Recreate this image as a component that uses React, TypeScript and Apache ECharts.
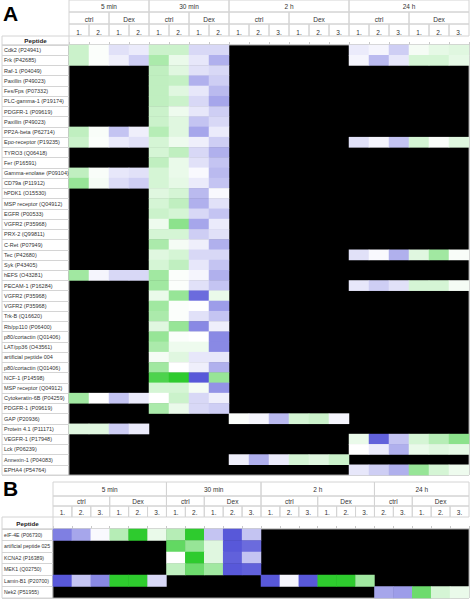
import React, { useEffect, useRef } from "react";
import * as echarts from "echarts";

const N = null;

const peptidesA = [
  "Cdk2 (P24941)", "Frk (P42685)", "Raf-1 (P04049)", "Paxillin (P49023)", "Fes/Fps (P07332)",
  "PLC-gamma-1 (P19174)", "PDGFR-1 (P09619)", "Paxillin (P49023)", "PP2A-beta (P62714)",
  "Epo-receptor (P19235)", "TYRO3 (Q06418)", "Fer (P16591)", "Gamma-enolase (P09104)",
  "CD79a (P11912)", "hPDK1 (O15530)", "MSP receptor (Q04912)", "EGFR (P00533)", "VGFR2 (P35968)",
  "PRX-2 (Q99811)", "C-Ret (P07949)", "Tec (P42680)", "Syk (P43405)", "hEFS (O43281)",
  "PECAM-1 (P16284)", "VGFR2 (P35968)", "VGFR2 (P35968)", "Trk-B (Q16620)", "Rb/pp110 (P06400)",
  "p80/cortactin (Q01406)", "LAT/pp36 (O43561)", "artificial peptide 004", "p80/cortactin (Q01406)",
  "NCF-1 (P14598)", "MSP receptor (Q04912)", "Cytokeratin-6B (P04259)", "PDGFR-1 (P09619)",
  "GAP (P20936)", "Protein 4.1 (P11171)", "VEGFR-1 (P17948)", "Lck (P06239)", "Annexin-1 (P04083)",
  "EPHA4 (P54764)",
];

const columnsA = [
  "5 min|ctrl|1.", "5 min|ctrl|2.", "5 min|Dex|1.", "5 min|Dex|2.",
  "30 min|ctrl|1.", "30 min|ctrl|2.", "30 min|Dex|1.", "30 min|Dex|2.",
  "2 h|ctrl|1.", "2 h|ctrl|2.", "2 h|ctrl|3.", "2 h|Dex|1.", "2 h|Dex|2.", "2 h|Dex|3.",
  "24 h|ctrl|1.", "24 h|ctrl|2.", "24 h|ctrl|3.", "24 h|Dex|1.", "24 h|Dex|2.", "24 h|Dex|3.",
];

// log-ratio like values: positive = green, negative = blue, null = not measured (black)
const valuesA = [
  [0.25, 0.02, -0.15, -0.1, 0.25, 0.25, -0.2, -0.2, N, N, N, N, N, N, -0.1, -0.05, -0.25, 0.05, 0.12, 0.15],
  [0.25, 0.02, -0.08, -0.25, 0.4, 0.1, -0.12, -0.4, N, N, N, N, N, N, -0.05, -0.35, -0.12, 0.2, 0.2, 0.12],
  [N, N, N, N, 0.3, 0.15, -0.15, -0.2, N, N, N, N, N, N, N, N, N, N, N, N],
  [N, N, N, N, 0.3, 0.28, -0.4, -0.25, N, N, N, N, N, N, N, N, N, N, N, N],
  [N, N, N, N, 0.3, 0.15, -0.12, -0.35, N, N, N, N, N, N, N, N, N, N, N, N],
  [N, N, N, N, 0.3, 0.25, -0.2, -0.45, N, N, N, N, N, N, N, N, N, N, N, N],
  [N, N, N, N, 0.25, 0.08, -0.12, -0.25, N, N, N, N, N, N, N, N, N, N, N, N],
  [N, N, N, N, 0.25, 0.15, -0.3, -0.2, N, N, N, N, N, N, N, N, N, N, N, N],
  [0.3, 0.03, -0.3, -0.08, 0.35, 0.15, -0.45, -0.1, N, N, N, N, N, N, N, N, N, N, N, N],
  [0.25, 0.02, -0.1, -0.15, 0.2, 0.08, -0.08, -0.25, N, N, N, N, N, N, -0.15, -0.05, -0.3, 0.2, 0.03, 0.15],
  [N, N, N, N, 0.2, 0.3, -0.2, -0.4, N, N, N, N, N, N, N, N, N, N, N, N],
  [N, N, N, N, 0.3, 0.1, -0.15, -0.3, N, N, N, N, N, N, N, N, N, N, N, N],
  [0.3, 0.03, -0.12, -0.15, 0.2, 0.1, -0.03, -0.35, N, N, N, N, N, N, N, N, N, N, N, N],
  [0.5, 0.05, -0.18, -0.25, 0.2, 0.12, -0.1, -0.3, N, N, N, N, N, N, N, N, N, N, N, N],
  [N, N, N, N, 0.15, 0.2, -0.35, -0.03, N, N, N, N, N, N, N, N, N, N, N, N],
  [N, N, N, N, 0.2, 0.3, -0.4, -0.15, N, N, N, N, N, N, N, N, N, N, N, N],
  [N, N, N, N, 0.25, 0.2, -0.2, -0.3, N, N, N, N, N, N, N, N, N, N, N, N],
  [N, N, N, N, 0.08, 0.55, -0.45, -0.1, N, N, N, N, N, N, N, N, N, N, N, N],
  [N, N, N, N, 0.2, 0.2, -0.25, -0.15, N, N, N, N, N, N, N, N, N, N, N, N],
  [N, N, N, N, 0.4, 0.05, -0.08, -0.4, N, N, N, N, N, N, N, N, N, N, N, N],
  [N, N, N, N, 0.15, 0.2, -0.2, -0.2, N, N, N, N, N, N, -0.15, -0.03, -0.4, 0.15, 0.45, 0.03],
  [N, N, N, N, 0.2, 0.3, -0.12, -0.3, N, N, N, N, N, N, N, N, N, N, N, N],
  [0.45, -0.05, -0.2, -0.2, 0.45, 0.02, -0.05, -0.4, N, N, N, N, N, N, N, N, N, N, N, N],
  [N, N, N, N, 0.45, 0.02, -0.15, -0.3, N, N, N, N, N, N, -0.12, -0.25, -0.15, 0.2, 0.2, 0.05],
  [N, N, N, N, 0.1, 0.5, -0.75, 0.1, N, N, N, N, N, N, N, N, N, N, N, N],
  [N, N, N, N, 0.45, 0.02, 0.0, -0.5, N, N, N, N, N, N, N, N, N, N, N, N],
  [N, N, N, N, 0.4, 0.02, -0.15, -0.3, N, N, N, N, N, N, N, N, N, N, N, N],
  [N, N, N, N, 0.15, 0.5, -0.6, -0.08, N, N, N, N, N, N, N, N, N, N, N, N],
  [N, N, N, N, 0.5, 0.02, 0.0, -0.6, N, N, N, N, N, N, N, N, N, N, N, N],
  [N, N, N, N, 0.4, 0.08, 0.08, -0.6, N, N, N, N, N, N, N, N, N, N, N, N],
  [N, N, N, N, 0.05, 0.15, -0.12, -0.12, N, N, N, N, N, N, N, N, N, N, N, N],
  [N, N, N, N, 0.45, 0.0, -0.08, -0.4, N, N, N, N, N, N, N, N, N, N, N, N],
  [N, N, N, N, 0.85, 1.0, -0.85, 0.5, N, N, N, N, N, N, N, N, N, N, N, N],
  [N, N, N, N, 0.2, 0.2, 0.05, -0.55, N, N, N, N, N, N, N, N, N, N, N, N],
  [0.45, 0.0, -0.3, -0.1, 0.0, 0.25, -0.2, -0.08, N, N, N, N, N, N, N, N, N, N, N, N],
  [N, N, N, N, 0.4, 0.1, -0.2, -0.25, N, N, N, N, N, N, N, N, N, N, N, N],
  [N, N, N, N, N, N, N, N, 0.02, -0.05, -0.35, 0.2, 0.25, -0.05, N, N, N, N, N, N],
  [0.15, 0.15, -0.25, -0.1, N, N, N, N, N, N, N, N, N, N, N, N, N, N, N, N],
  [N, N, N, N, N, N, N, N, N, N, N, N, N, N, 0.1, -0.8, -0.3, 0.2, 0.35, 0.55],
  [N, N, N, N, N, N, N, N, N, N, N, N, N, N, 0.0, -0.1, -0.4, 0.1, 0.15, 0.12],
  [N, N, N, N, N, N, N, N, -0.08, -0.4, -0.1, 0.2, 0.15, 0.25, N, N, N, N, N, N],
  [N, N, N, N, N, N, N, N, N, N, N, N, N, N, -0.12, -0.25, -0.4, 0.5, 0.2, 0.08],
];

const peptidesB = [
  "eIF-4E (P06730)", "artificial peptide 025", "KCNA2 (P16389)", "MEK1 (Q02750)",
  "Lamin-B1 (P20700)", "Nek2 (P51955)",
];

const columnsB = [
  "5 min|ctrl|1.", "5 min|ctrl|2.", "5 min|ctrl|3.", "5 min|Dex|1.", "5 min|Dex|2.", "5 min|Dex|3.",
  "30 min|ctrl|1.", "30 min|ctrl|2.", "30 min|Dex|1.", "30 min|Dex|2.", "30 min|Dex|3.",
  "2 h|ctrl|1.", "2 h|ctrl|2.", "2 h|ctrl|3.", "2 h|Dex|1.", "2 h|Dex|2.", "2 h|Dex|3.",
  "24 h|ctrl|2.", "24 h|ctrl|3.", "24 h|Dex|1.", "24 h|Dex|2.", "24 h|Dex|3.",
];

const valuesB = [
  [-0.65, -0.45, -0.03, 0.35, 1.0, 0.1, 0.35, 1.0, -0.3, -0.85, -0.3, N, N, N, N, N, N, N, N, N, N, N],
  [N, N, N, N, N, N, 0.75, 0.5, 0.15, -0.85, -0.75, N, N, N, N, N, N, N, N, N, N, N],
  [N, N, N, N, N, N, 0.0, 1.0, 0.15, -0.8, -0.3, N, N, N, N, N, N, N, N, N, N, N],
  [N, N, N, N, N, N, 0.3, 0.7, 0.45, -0.85, -0.8, N, N, N, N, N, N, N, N, N, N, N],
  [-0.85, -0.3, -0.6, 1.0, 1.0, -0.2, N, N, N, N, N, -0.85, -0.05, -0.85, 1.0, 1.0, 0.45, N, N, N, N, N],
  [N, N, N, N, N, N, N, N, N, N, N, N, N, N, N, N, N, -0.45, -0.5, 0.7, 0.2, 0.1],
];

const SANS = "'Liberation Sans', Arial, sans-serif";

// layout
const A = { labelLeft: 2, left: 69, width: 400, top: 45, height: 430, bounds: [0, 12, 24, 36, 45], textY: [6.5, 19, 31.5, 40.5], repMargin: 9, labelSize: 5.5 };
const B = { labelLeft: 2, left: 53, width: 416, top: 529, height: 69, bounds: [482, 496, 506, 517, 529], textY: [489.5, 501, 511.5, 523], repMargin: 13, labelSize: 5.2 };

type Span = { key: string; label: string; start: number; count: number };
function groupSpans(cols: string[], depth: number): Span[] {
  const out: Span[] = [];
  cols.forEach((c, i) => {
    const parts = c.split("|");
    const key = parts.slice(0, depth + 1).join("|");
    const last = out[out.length - 1];
    if (last && last.key === key) last.count++;
    else out.push({ key, label: parts[depth], start: i, count: 1 });
  });
  return out;
}

const LINE = "#d4d4d4";

function headerGraphics(cols: string[], L: typeof A) {
  const colW = L.width / cols.length;
  const els: any[] = [];
  for (let d = 0; d < 3; d++) {
    groupSpans(cols, d).forEach((s) => {
      els.push({
        type: "rect", silent: true, z: 1,
        shape: { x: L.left + s.start * colW, y: L.bounds[d], width: s.count * colW, height: L.bounds[d + 1] - L.bounds[d] },
        style: { fill: "none", stroke: LINE, lineWidth: 1 },
      });
      if (d < 2) {
        els.push({
          type: "text", silent: true, z: 2,
          x: L.left + (s.start + s.count / 2) * colW, y: L.textY[d],
          style: { text: s.label, fill: "#333", font: `6.5px ${SANS}`, align: "center", verticalAlign: "middle", textAlign: "center", textVerticalAlign: "middle" },
        });
      }
    });
  }
  els.push({
    type: "rect", silent: true, z: 1,
    shape: { x: L.labelLeft, y: L.bounds[3], width: L.left - L.labelLeft, height: L.bounds[4] - L.bounds[3] },
    style: { fill: "none", stroke: LINE, lineWidth: 1 },
  });
  els.push({
    type: "text", silent: true, z: 2,
    x: (L.labelLeft + L.left) / 2, y: L.textY[3],
    style: { text: "Peptide", fill: "#222", font: `bold 6.2px ${SANS}`, align: "center", verticalAlign: "middle", textAlign: "center", textVerticalAlign: "middle" },
  });
  return els;
}

function cells(values: (number | null)[][]) {
  const out: [number, number, number][] = [];
  values.forEach((row, r) => row.forEach((v, c) => { if (v !== null) out.push([c, r, v]); }));
  return out;
}

export default function App() {
  const ref = useRef<HTMLDivElement>(null);
  useEffect(() => {
    if (!ref.current) return;
    const chart = echarts.init(ref.current, null, { renderer: "svg" });
    const idx = (arr: any[]) => arr.map((_, i) => String(i));
    const labelAxis = (names: string[], gi: number, size: number) => ({
      type: "category", gridIndex: gi, data: idx(names), inverse: true,
      axisLine: { show: false }, axisTick: { show: false },
      splitLine: { show: true, interval: 0, lineStyle: { color: LINE, width: 1 } },
      axisLabel: { inside: true, margin: 2, interval: 0, align: "left", color: "#333", fontSize: size, fontFamily: SANS, formatter: (v: string) => names[+v] },
    });
    const dataY = (names: string[], gi: number) => ({ type: "category", gridIndex: gi, data: idx(names), inverse: true, show: false });
    const hiddenX = (gi: number) => ({ type: "category", gridIndex: gi, data: ["x"], show: false });
    const repX = (cols: string[], gi: number, margin: number) => ({
      type: "category", gridIndex: gi, position: "top", data: idx(cols),
      axisLine: { show: false },
      axisTick: { show: true, length: 3, lineStyle: { color: "#c8c8c8" } },
      axisLabel: { interval: 0, margin, color: "#333", fontSize: 6.5, fontFamily: SANS, formatter: (v: string) => cols[+v].split("|")[2] },
    });

    chart.setOption({
      animation: false,
      backgroundColor: "#fff",
      grid: [
        { left: A.labelLeft, top: A.top, width: A.left - A.labelLeft, height: A.height, show: true, borderColor: LINE, borderWidth: 1, backgroundColor: "#fff" },
        { left: A.left, top: A.top, width: A.width, height: A.height, show: true, borderColor: "#9a9a9a", borderWidth: 1, backgroundColor: "#000" },
        { left: B.labelLeft, top: B.top, width: B.left - B.labelLeft, height: B.height, show: true, borderColor: LINE, borderWidth: 1, backgroundColor: "#fff" },
        { left: B.left, top: B.top, width: B.width, height: B.height, show: true, borderColor: "#9a9a9a", borderWidth: 1, backgroundColor: "#000" },
      ],
      xAxis: [hiddenX(0), repX(columnsA, 1, A.repMargin), hiddenX(2), repX(columnsB, 3, B.repMargin)],
      yAxis: [labelAxis(peptidesA, 0, A.labelSize), dataY(peptidesA, 1), labelAxis(peptidesB, 2, B.labelSize), dataY(peptidesB, 3)],
      visualMap: [{
        type: "continuous", min: -1, max: 1, show: false, seriesIndex: [0, 1],
        inRange: { color: ["#3a3ad2", "#ffffff", "#2ecb2e"] },
      }],
      series: [
        { type: "heatmap", xAxisIndex: 1, yAxisIndex: 1, data: cells(valuesA), itemStyle: { borderWidth: 0 }, emphasis: { disabled: true } },
        { type: "heatmap", xAxisIndex: 3, yAxisIndex: 3, data: cells(valuesB), itemStyle: { borderWidth: 0 }, emphasis: { disabled: true } },
      ],
      graphic: [
        ...headerGraphics(columnsA, A),
        ...headerGraphics(columnsB, B as any),
        { type: "text", silent: true, x: 3, y: 13, style: { text: "A", fill: "#000", font: `bold 21px ${SANS}`, align: "left", verticalAlign: "middle", textAlign: "left", textVerticalAlign: "middle" } },
        { type: "text", silent: true, x: 3, y: 488, style: { text: "B", fill: "#000", font: `bold 21px ${SANS}`, align: "left", verticalAlign: "middle", textAlign: "left", textVerticalAlign: "middle" } },
      ],
    });
    return () => chart.dispose();
  }, []);
  return <div ref={ref} style={{ position: "fixed", left: 0, top: 0, width: 472, height: 602 }} />;
}
